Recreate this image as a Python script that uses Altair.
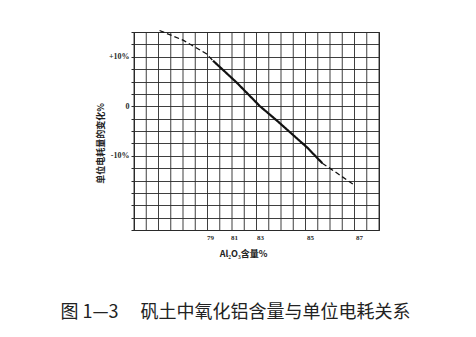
import altair as alt
import pandas as pd

# Al2O3 content (%) vs. change in unit power consumption (%)
upper_dash_x = [74.8, 76.8, 78.7, 79.25]
upper_dash_y = [15.3, 13.3, 10.6, 9.2]
solid_x = [79.25, 81.2, 83.0, 83.7, 84.9, 85.5]
solid_y = [9.2, 4.8, 0.0, -3.0, -8.4, -11.5]
lower_dash_x = [85.5, 86.1, 86.8]
lower_dash_y = [-11.5, -13.5, -15.9]

x_ticks = [79, 81, 83, 85, 87]
y_levels = [-25 + 2.5 * i for i in range(17)]
grid_cols = list(range(21))

# graph-paper x axis: printed tick labels are not evenly spaced
x_domain = [72.67, 79, 81, 83, 85, 87, 87.82]
x_range = [0, 76, 100, 126, 176, 225, 245]

W, H = 245, 198
ink = "#2a2a2a"

curve = pd.DataFrame({
    "x": upper_dash_x + solid_x + lower_dash_x,
    "y": upper_dash_y + solid_y + lower_dash_y,
    "seg": ["a"] * len(upper_dash_x) + ["s"] * len(solid_x) + ["b"] * len(lower_dash_x),
    "style": ["dash"] * len(upper_dash_x) + ["solid"] * len(solid_x) + ["dash"] * len(lower_dash_x),
})
cols = pd.DataFrame({"c": grid_cols})

x_scale = alt.Scale(domain=x_domain, range=x_range, nice=False, zero=False)
y_scale = alt.Scale(domain=[-25, 15], nice=False, zero=False)

y_axis = alt.Axis(
    values=y_levels,
    grid=True, gridColor=ink, gridWidth=1, gridOpacity=0.9,
    labelExpr="datum.value == 10 ? '+10%' : datum.value == 0 ? '0' : datum.value == -10 ? '-10%' : ''",
    labelFont="Liberation Serif", labelFontSize=8, labelFontWeight="bold", labelColor=ink,
    labelPadding=2, tickSize=3, tickColor=ink, domainColor=ink,
    title="单位电耗量的变化%", titleFont="Noto Sans CJK SC", titleFontSize=9,
    titleFontWeight="bold", titleColor="#222222", titleX=-34, titleY=111, titleAngle=270,
    titleAlign="center", titleBaseline="middle",
)

x_axis = alt.Axis(
    values=x_ticks, grid=False,
    labelFont="Liberation Serif", labelFontSize=7, labelFontWeight="bold", labelColor=ink,
    labelPadding=3, tickSize=0, domainColor=ink,
    title="Al₂O₃含量%", titleFont="Noto Sans CJK SC", titleFontSize=9,
    titleFontWeight="bold", titleColor="#222222", titleX=109, titleY=23,
    titleAlign="center", titleBaseline="middle",
)

line = alt.Chart(curve).mark_line(color="#111").encode(
    x=alt.X("x:Q", scale=x_scale, axis=x_axis),
    y=alt.Y("y:Q", scale=y_scale, axis=y_axis),
    detail="seg:N",
    strokeDash=alt.StrokeDash(
        "style:N", legend=None,
        scale=alt.Scale(domain=["dash", "solid"], range=[[5, 3], [1, 0]]),
    ),
    strokeWidth=alt.StrokeWidth(
        "style:N", legend=None,
        scale=alt.Scale(domain=["dash", "solid"], range=[1.3, 2.2]),
    ),
)

vlines = alt.Chart(cols).mark_rule(color=ink, strokeWidth=1, opacity=0.9).encode(
    x=alt.X("c:Q", scale=alt.Scale(domain=[0, 20], nice=False, zero=False), axis=None),
    y=alt.value(0),
    y2=alt.value(H),
)

chart = (
    alt.layer(vlines, line)
    .resolve_scale(x="independent")
    .properties(
        width=W, height=H,
        autosize="none",
        padding={"left": 134, "top": 32, "right": 97, "bottom": 107},
        background="white",
        title=alt.TitleParams(
            "图 1—3　  矾土中氧化铝含量与单位电耗关系",
            orient="bottom", anchor="middle", offset=46, dx=-21,
            font="Noto Sans CJK SC", fontSize=18, fontWeight="normal", color="#222",
        ),
    )
    .configure_view(stroke=ink, strokeWidth=1)
)

chart.save("out.html", embed_options={"renderer": "svg", "actions": False})
